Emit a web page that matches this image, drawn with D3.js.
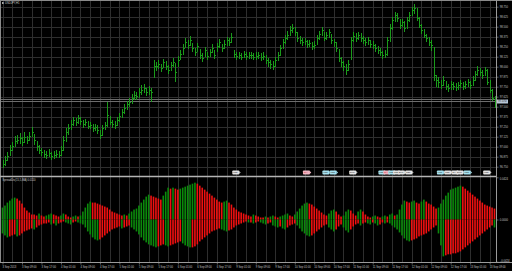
<!DOCTYPE html>
<html>
<head>
<meta charset="utf-8">
<script src="https://cdnjs.cloudflare.com/ajax/libs/d3/7.8.5/d3.min.js"></script>
<style>
html, body { margin: 0; padding: 0; background: #000; overflow: hidden; }
</style>
</head>
<body>
<div id="vis-container"></div>
<script>
// price bars, H1
var highs = [
  96.84, 96.88, 96.93, 97.02, 97.06, 97.13, 97.15, 97.17, 97.12, 97.18,
  97.14, 97.18, 97.25, 97.16, 97.07, 97.02, 96.98, 96.96, 96.95, 96.97,
  96.94, 96.95, 96.96, 96.95, 97.01, 97.13, 97.23, 97.28, 97.33, 97.37, 97.36,
  97.40, 97.37, 97.34, 97.35, 97.32, 97.31, 97.29, 97.29, 97.27, 97.21,
  97.27, 97.31, 97.56, 97.38, 97.33, 97.32, 97.37, 97.42, 97.47, 97.53,
  97.57, 97.61, 97.66, 97.70, 97.68, 97.73, 97.77, 97.78, 97.74, 97.76,
  97.74, 98.08, 98.06, 98.08, 98.04, 98.10, 98.07, 98.02, 98.06, 98.11,
  98.05, 98.13, 98.21, 98.28, 98.36, 98.33, 98.38, 98.30, 98.24, 98.30,
  98.22, 98.17, 98.25, 98.19, 98.22, 98.28, 98.21, 98.30, 98.35, 98.29,
  98.33, 98.37, 98.36, 98.42, 98.21, 98.18, 98.19, 98.17, 98.20, 98.18,
  98.19, 98.18, 98.17, 98.18, 98.19, 98.17, 98.18, 98.15, 98.11, 98.09, 98.07,
  98.12, 98.19, 98.27, 98.35, 98.40, 98.45, 98.51, 98.53, 98.50, 98.44,
  98.38, 98.36, 98.36, 98.33, 98.34, 98.31, 98.32, 98.40, 98.45, 98.50,
  98.43, 98.44, 98.47, 98.41, 98.35, 98.31, 98.22, 98.12, 98.07, 98.03,
  98.08, 98.37, 98.43, 98.42, 98.44, 98.42, 98.39, 98.36, 98.37, 98.34,
  98.32, 98.29, 98.26, 98.23, 98.20, 98.21, 98.37, 98.53, 98.62, 98.69,
  98.67, 98.60, 98.60, 98.57, 98.62, 98.69, 98.75, 98.78, 98.74, 98.62,
  98.53, 98.47, 98.41, 98.37, 98.33, 98.25, 97.90, 97.87, 97.83, 97.88,
  97.82, 97.79, 97.82, 97.81, 97.80, 97.81, 97.84, 97.81, 97.82, 97.85, 97.82,
  97.88, 97.95, 98.01, 97.98, 97.96, 98.00, 97.97, 97.83, 97.72, 97.63
];
var lows = [
  96.73, 96.76, 96.82, 96.88, 96.95, 97.00, 97.03, 97.04, 97.01, 97.05,
  97.03, 97.07, 97.12, 97.02, 96.95, 96.91, 96.88, 96.86, 96.85, 96.87,
  96.84, 96.85, 96.86, 96.86, 96.89, 96.95, 97.06, 97.15, 97.21, 97.26, 97.26,
  97.29, 97.27, 97.24, 97.26, 97.22, 97.22, 97.19, 97.20, 97.16, 97.10,
  97.14, 97.21, 97.25, 97.27, 97.24, 97.22, 97.26, 97.31, 97.36, 97.41,
  97.46, 97.50, 97.54, 97.58, 97.58, 97.61, 97.65, 97.67, 97.63, 97.65,
  97.56, 97.86, 97.95, 97.97, 97.93, 97.99, 97.96, 97.91, 97.95, 98.00,
  97.81, 98.00, 98.08, 98.15, 98.23, 98.22, 98.26, 98.18, 98.13, 98.18,
  98.10, 98.06, 98.12, 98.08, 98.12, 98.17, 98.10, 98.19, 98.24, 98.18,
  98.22, 98.26, 98.26, 98.30, 98.11, 98.09, 98.10, 98.08, 98.11, 98.09,
  98.10, 98.10, 98.08, 98.09, 98.10, 98.07, 98.08, 98.03, 98.00, 97.97, 97.96,
  98.00, 98.07, 98.14, 98.22, 98.29, 98.34, 98.39, 98.42, 98.38, 98.31,
  98.28, 98.26, 98.27, 98.23, 98.25, 98.21, 98.22, 98.27, 98.34, 98.39,
  98.32, 98.34, 98.36, 98.29, 98.25, 98.18, 98.06, 98.00, 97.95, 97.90,
  97.95, 98.08, 98.31, 98.31, 98.33, 98.31, 98.28, 98.26, 98.27, 98.24,
  98.22, 98.19, 98.16, 98.13, 98.10, 98.11, 98.14, 98.31, 98.46, 98.56,
  98.56, 98.47, 98.50, 98.44, 98.47, 98.56, 98.63, 98.66, 98.57, 98.48,
  98.41, 98.36, 98.31, 98.26, 98.20, 97.82, 97.75, 97.74, 97.72, 97.76,
  97.71, 97.68, 97.71, 97.71, 97.70, 97.71, 97.74, 97.71, 97.72, 97.75, 97.72,
  97.76, 97.82, 97.89, 97.88, 97.85, 97.88, 97.77, 97.67, 97.57, 97.49
];
var closes = [
  96.78, 96.83, 96.88, 96.96, 97.01, 97.07, 97.08, 97.11, 97.06, 97.12,
  97.08, 97.13, 97.18, 97.08, 97.01, 96.96, 96.93, 96.91, 96.90, 96.92,
  96.88, 96.90, 96.91, 96.90, 96.96, 97.08, 97.18, 97.23, 97.28, 97.33, 97.31,
  97.36, 97.32, 97.28, 97.31, 97.26, 97.27, 97.23, 97.25, 97.21, 97.15,
  97.23, 97.27, 97.40, 97.31, 97.28, 97.27, 97.33, 97.38, 97.43, 97.48,
  97.53, 97.56, 97.61, 97.65, 97.63, 97.68, 97.71, 97.73, 97.68, 97.71,
  97.68, 98.01, 98.01, 98.03, 97.98, 98.06, 98.01, 97.96, 98.02, 98.06,
  97.93, 98.08, 98.16, 98.23, 98.31, 98.27, 98.33, 98.23, 98.18, 98.26,
  98.15, 98.11, 98.21, 98.13, 98.18, 98.23, 98.15, 98.26, 98.31, 98.23,
  98.28, 98.33, 98.31, 98.37, 98.16, 98.13, 98.15, 98.12, 98.16, 98.13,
  98.15, 98.14, 98.12, 98.13, 98.15, 98.12, 98.13, 98.08, 98.06, 98.03, 98.01,
  98.08, 98.15, 98.23, 98.31, 98.36, 98.40, 98.46, 98.48, 98.43, 98.36,
  98.33, 98.31, 98.32, 98.28, 98.30, 98.26, 98.27, 98.36, 98.41, 98.46,
  98.36, 98.40, 98.43, 98.33, 98.31, 98.23, 98.11, 98.06, 98.01, 97.96,
  98.03, 98.33, 98.38, 98.36, 98.40, 98.36, 98.33, 98.31, 98.33, 98.28,
  98.27, 98.23, 98.21, 98.18, 98.15, 98.16, 98.33, 98.48, 98.58, 98.65,
  98.61, 98.52, 98.56, 98.48, 98.58, 98.65, 98.71, 98.73, 98.61, 98.52,
  98.46, 98.40, 98.36, 98.31, 98.27, 97.90, 97.83, 97.81, 97.77, 97.83,
  97.76, 97.73, 97.78, 97.76, 97.75, 97.77, 97.80, 97.76, 97.78, 97.81, 97.77,
  97.83, 97.91, 97.96, 97.93, 97.90, 97.96, 97.81, 97.71, 97.61, 97.57
];

// indicator window: upper and lower histogram
var upper = [
  0.012, 0.014, 0.017, 0.019, 0.021, 0.022, 0.021, 0.019, 0.016, 0.012,
  0.009, 0.007, 0.005, 0.005, 0.004, 0.006, 0.004, 0.003, 0.004, 0.005,
  0.006, 0.005, 0.004, 0.003, 0.004, 0.006, 0.005, 0.003, 0.002, 0.003, 0.004,
  0.003, 0.004, 0.008, 0.012, 0.016, 0.018, 0.017, 0.017, 0.016, 0.015,
  0.014, 0.013, 0.012, 0.010, 0.008, 0.007, 0.006, 0.005, 0.004, 0.005,
  0.004, 0.006, 0.008, 0.010, 0.011, 0.014, 0.017, 0.020, 0.023, 0.025,
  0.024, 0.023, 0.022, 0.021, 0.020, 0.024, 0.028, 0.032, 0.031, 0.032,
  0.031, 0.030, 0.031, 0.032, 0.033, 0.034, 0.035, 0.036, 0.037, 0.036,
  0.034, 0.032, 0.030, 0.028, 0.026, 0.024, 0.022, 0.020, 0.018, 0.017,
  0.018, 0.019, 0.017, 0.015, 0.012, 0.010, 0.008, 0.007, 0.006, 0.005,
  0.004, 0.003, 0.005, 0.004, 0.003, 0.002, 0.002, 0.003, 0.002, 0.003, 0.004,
  0.003, 0.002, 0.003, 0.004, 0.005, 0.006, 0.004, 0.003, 0.005, 0.008,
  0.011, 0.014, 0.016, 0.017, 0.016, 0.015, 0.013, 0.011, 0.009, 0.007,
  0.005, 0.004, 0.006, 0.009, 0.010, 0.008, 0.005, 0.003, 0.004, 0.008,
  0.010, 0.009, 0.006, 0.004, 0.008, 0.010, 0.008, 0.005, 0.003, 0.002,
  0.003, 0.004, 0.003, 0.002, 0.003, 0.004, 0.003, 0.005, 0.006, 0.004,
  0.005, 0.010, 0.015, 0.019, 0.018, 0.017, 0.018, 0.019, 0.017, 0.016,
  0.018, 0.020, 0.018, 0.016, 0.015, 0.013, 0.011, 0.012, 0.016, 0.020,
  0.024, 0.027, 0.030, 0.031, 0.032, 0.033, 0.034, 0.033, 0.031, 0.029, 0.027,
  0.025, 0.023, 0.021, 0.019, 0.017, 0.015, 0.014, 0.013, 0.012, 0.011
];
var lower = [
  -0.014, -0.016, -0.018, -0.017, -0.016, -0.015, -0.017, -0.016, -0.014, -0.012,
  -0.011, -0.010, -0.009, -0.010, -0.008, -0.006, -0.005, -0.004, -0.004, -0.003,
  -0.005, -0.004, -0.006, -0.004, -0.003, -0.002, -0.003, -0.004, -0.005, -0.003, -0.002,
  -0.003, -0.004, -0.005, -0.008, -0.012, -0.015, -0.018, -0.020, -0.021, -0.020,
  -0.018, -0.016, -0.014, -0.012, -0.010, -0.009, -0.008, -0.007, -0.009, -0.008,
  -0.007, -0.006, -0.008, -0.010, -0.012, -0.015, -0.018, -0.021, -0.023, -0.025,
  -0.026, -0.027, -0.028, -0.027, -0.026, -0.025, -0.026, -0.027, -0.026, -0.025,
  -0.024, -0.023, -0.022, -0.024, -0.026, -0.027, -0.028, -0.028, -0.027, -0.025,
  -0.022, -0.020, -0.018, -0.016, -0.014, -0.012, -0.011, -0.010, -0.009, -0.010,
  -0.011, -0.012, -0.011, -0.010, -0.008, -0.006, -0.005, -0.004, -0.003, -0.002,
  -0.003, -0.003, -0.004, -0.003, -0.002, -0.003, -0.004, -0.005, -0.004, -0.003, -0.006,
  -0.007, -0.008, -0.007, -0.009, -0.010, -0.008, -0.006, -0.005, -0.004, -0.006,
  -0.009, -0.012, -0.014, -0.016, -0.017, -0.016, -0.014, -0.012, -0.010, -0.008,
  -0.006, -0.005, -0.008, -0.010, -0.012, -0.010, -0.007, -0.005, -0.008, -0.011,
  -0.013, -0.010, -0.007, -0.005, -0.004, -0.006, -0.004, -0.003, -0.004, -0.005,
  -0.003, -0.004, -0.006, -0.005, -0.003, -0.004, -0.003, -0.004, -0.006, -0.008,
  -0.010, -0.013, -0.016, -0.019, -0.021, -0.022, -0.021, -0.020, -0.019, -0.017,
  -0.016, -0.015, -0.014, -0.012, -0.010, -0.008, -0.006, -0.014, -0.026, -0.037,
  -0.036, -0.035, -0.035, -0.034, -0.034, -0.033, -0.032, -0.030, -0.028, -0.026, -0.024,
  -0.022, -0.020, -0.018, -0.016, -0.014, -0.012, -0.010, -0.008, -0.006, -0.008
];

var priceTicks = [98.750, 98.625, 98.500, 98.375, 98.250, 98.125, 98.000, 97.875,
  97.750, 97.625, 97.500, 97.375, 97.250, 97.125, 97.000, 96.875, 96.750];
var indTicks = [0.0424, 0.0000, -0.0424];
var timeLabels = ["3 Sep 2013", "3 Sep 09:00", "3 Sep 17:00", "4 Sep 01:00", "4 Sep 09:00",
  "4 Sep 17:00", "5 Sep 01:00", "5 Sep 09:00", "5 Sep 17:00", "6 Sep 01:00", "6 Sep 09:00",
  "6 Sep 17:00", "9 Sep 01:00", "9 Sep 09:00", "9 Sep 17:00", "10 Sep 01:00", "10 Sep 09:00",
  "10 Sep 17:00", "11 Sep 01:00", "11 Sep 09:00", "11 Sep 17:00", "12 Sep 01:00",
  "12 Sep 09:00", "12 Sep 17:00", "13 Sep 01:00", "13 Sep 09:00"];

// calendar event markers
var eventBars  = [96, 125, 133, 136, 144, 156, 158, 160, 162, 164, 167, 180, 183, 186, 188, 191, 199];
var eventKinds = ["w", "p", "c", "c", "w", "c", "p", "c", "w", "w", "w", "c", "w", "w", "w", "c", "w"];
var eventTexts = ["USD", "JPY", "USD", "USD", "EUR", "USD", "JPY", "USD", "USD", "EUR", "GBP",
  "USD", "USD", "JPY", "EUR", "USD", "USD"];

var N = Math.min(highs.length, lows.length, closes.length, upper.length, lower.length);
var W = 512, H = 271;
var plotRight = 496, sepY = 176.5, bottomY = 262.5;

var svg = d3.select("#vis-container").append("svg")
    .attr("width", W)
    .attr("height", H)
    .style("display", "block")
    .style("background", "#000");

var x = d3.scaleLinear().domain([0, 202]).range([2.5, 494.5]);
var yPrice = d3.scaleLinear().domain([96.75, 98.75]).range([166.7, 6.7]);
var yInd = d3.scaleLinear().domain([-0.0424, 0.0424]).range([261.7, 177.3]);

var px = function(i) { return Math.round(x(i)); };

// grid
var gridCol = "#2e2e2e";
var vLines = d3.range(0, N, 4);
svg.append("g").selectAll("line")
    .data(vLines)
    .enter().append("line")
    .attr("x1", function(d) { return px(d) + 0.5; })
    .attr("x2", function(d) { return px(d) + 0.5; })
    .attr("y1", 1)
    .attr("y2", bottomY)
    .attr("stroke", gridCol)
    .attr("stroke-width", 1);
svg.append("g").selectAll("line")
    .data(priceTicks)
    .enter().append("line")
    .attr("x1", 1)
    .attr("x2", plotRight)
    .attr("y1", function(d) { return Math.round(yPrice(d)) + 0.5; })
    .attr("y2", function(d) { return Math.round(yPrice(d)) + 0.5; })
    .attr("stroke", gridCol)
    .attr("stroke-width", 1);

// bid / ask lines
var last = closes[N - 1];
[last, last + 0.03].forEach(function(p) {
    svg.append("line")
        .attr("x1", 1).attr("x2", plotRight)
        .attr("y1", Math.round(yPrice(p)) + 0.5)
        .attr("y2", Math.round(yPrice(p)) + 0.5)
        .attr("stroke", "#6c6c6c")
        .attr("stroke-width", 1);
});

// price bars
var barCol = "#1a9a1a";
var bars = svg.append("g").attr("shape-rendering", "crispEdges");
bars.selectAll("line.hl")
    .data(d3.range(N))
    .enter().append("line")
    .attr("class", "hl")
    .attr("x1", function(i) { return px(i) + 0.5; })
    .attr("x2", function(i) { return px(i) + 0.5; })
    .attr("y1", function(i) { return yPrice(highs[i]); })
    .attr("y2", function(i) { return yPrice(lows[i]); })
    .attr("stroke", barCol)
    .attr("stroke-width", 1);
bars.selectAll("line.cl")
    .data(d3.range(N))
    .enter().append("line")
    .attr("class", "cl")
    .attr("x1", function(i) { return px(i) + 1; })
    .attr("x2", function(i) { return px(i) + 2; })
    .attr("y1", function(i) { return Math.round(yPrice(closes[i])) + 0.5; })
    .attr("y2", function(i) { return Math.round(yPrice(closes[i])) + 0.5; })
    .attr("stroke", barCol)
    .attr("stroke-width", 1);

// histogram: green while the bar grows, red while it shrinks
var histCol = function(arr, i) {
    if (i == 0) return "#0b8a0b";
    return Math.abs(arr[i]) > Math.abs(arr[i - 1]) ? "#0b8a0b" : "#f01010";
};
var hist = svg.append("g");
[upper, lower].forEach(function(arr) {
    hist.append("g").selectAll("rect")
        .data(d3.range(N))
        .enter().append("rect")
        .attr("x", function(i) { return x(i) - 0.8; })
        .attr("width", 1.6)
        .attr("y", function(i) { return Math.min(yInd(0), yInd(arr[i])); })
        .attr("height", function(i) { return Math.abs(yInd(arr[i]) - yInd(0)); })
        .attr("fill", function(i) { return histCol(arr, i); });
});

// frame and separators
var frameCol = "#9a9a9a";
svg.append("line").attr("x1", 0).attr("x2", W).attr("y1", 0.5).attr("y2", 0.5)
    .attr("stroke", "#8a8a8a");
svg.append("line").attr("x1", 0.5).attr("x2", 0.5).attr("y1", 0).attr("y2", bottomY)
    .attr("stroke", "#8a8a8a");
svg.append("line").attr("x1", 0).attr("x2", plotRight).attr("y1", sepY).attr("y2", sepY)
    .attr("stroke", "#b4b4b4").attr("stroke-width", 1.3);

// price axis
var axP = svg.append("g")
    .attr("transform", "translate(" + (plotRight + 0.5) + ",0)")
    .call(d3.axisRight(yPrice).tickValues(priceTicks).tickFormat(d3.format(".3f"))
        .tickSize(2).tickPadding(1.2));
var axI = svg.append("g")
    .attr("transform", "translate(" + (plotRight + 0.5) + ",0)")
    .call(d3.axisRight(yInd).tickValues(indTicks).tickFormat(d3.format(".4f"))
        .tickSize(2).tickPadding(1.2));
axI.selectAll(".tick text").attr("dy", function(d) {
    return d > 0 ? "0.9em" : (d < 0 ? "-0.2em" : "0.32em");
});
[axP, axI].forEach(function(a) {
    a.select(".domain").remove();
    a.attr("font-size", 2.7).attr("font-family", "Liberation Sans, Arial, sans-serif");
    a.selectAll(".tick line").attr("stroke", "#a0a0a0").attr("stroke-width", 0.6);
    a.selectAll(".tick text").attr("fill", "#c4c4c4");
});
svg.append("line").attr("x1", plotRight + 0.5).attr("x2", plotRight + 0.5)
    .attr("y1", 0).attr("y2", bottomY).attr("stroke", frameCol);

// current price label
var cy = Math.round(yPrice(last)) + 0.5;
svg.append("rect")
    .attr("x", plotRight + 1).attr("y", cy - 2)
    .attr("width", 11).attr("height", 4)
    .attr("fill", "#b8c6d4");
svg.append("text")
    .attr("x", plotRight + 2.2).attr("y", cy + 0.9)
    .attr("font-size", 2.7).attr("font-family", "Liberation Sans, Arial, sans-serif")
    .attr("fill", "#1a1a1a")
    .text(d3.format(".3f")(last));

// time axis
var timeTicks = d3.range(0, N, 8);
var axT = svg.append("g")
    .attr("transform", "translate(0," + bottomY + ")")
    .call(d3.axisBottom(x).tickValues(timeTicks)
        .tickFormat(function(d) { return timeLabels[d / 8] || ""; })
        .tickSize(2).tickPadding(1.2));
axT.select(".domain").remove();
axT.attr("font-size", 2.7).attr("font-family", "Liberation Sans, Arial, sans-serif");
axT.selectAll(".tick line").attr("stroke", "#a0a0a0").attr("stroke-width", 0.6);
axT.selectAll(".tick text").attr("fill", "#c4c4c4").attr("text-anchor", "start").attr("x", -0.5);
svg.append("line").attr("x1", 0).attr("x2", W).attr("y1", bottomY).attr("y2", bottomY)
    .attr("stroke", frameCol);

// event markers along the bottom of the price window
var kindFill = { w: "#e4e4e4", p: "#f2b6c2", c: "#a6e2f0" };
var ev = svg.append("g").selectAll("g")
    .data(d3.range(eventBars.length))
    .enter().append("g")
    .attr("transform", function(k) { return "translate(" + (x(eventBars[k]) - 4) + ",170.5)"; });
ev.append("rect")
    .attr("width", 7).attr("height", 4).attr("rx", 0.8)
    .attr("fill", function(k) { return kindFill[eventKinds[k]]; });
ev.append("path")
    .attr("d", "M7,0.8 L8.3,2 L7,3.2 Z")
    .attr("fill", function(k) { return kindFill[eventKinds[k]]; });
ev.append("text")
    .attr("x", 0.7).attr("y", 2.9)
    .attr("font-size", 2.2).attr("font-family", "Liberation Sans, Arial, sans-serif")
    .attr("fill", function(k) { return eventKinds[k] == "p" ? "#c02030" : "#303030"; })
    .text(function(k) { return eventTexts[k]; });

// window titles
svg.append("rect").attr("x", 2).attr("y", 2.2).attr("width", 1.6).attr("height", 1.6)
    .attr("fill", "#d0d0d0");
svg.append("text")
    .attr("x", 5).attr("y", 4.2)
    .attr("font-size", 2.7).attr("font-family", "Liberation Sans, Arial, sans-serif")
    .attr("fill", "#d0d0d0")
    .text("USDJPY,H1");
svg.append("text")
    .attr("x", 2.5).attr("y", 180.6)
    .attr("font-size", 2.7).attr("font-family", "Liberation Sans, Arial, sans-serif")
    .attr("fill", "#d0d0d0")
    .text("SpreadDiv(15,5,MA) 0.0110");
</script>
</body>
</html>
